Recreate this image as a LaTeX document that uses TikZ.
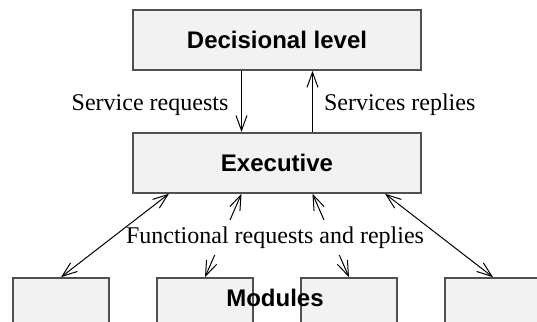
\documentclass[tikz,border=0pt]{standalone}
\usepackage{fontspec}
\setmainfont{Liberation Serif}
\setsansfont{Liberation Sans}
\usepackage{tikz}
\usetikzlibrary{positioning, arrows.meta, calc}
\definecolor{boxgray}{RGB}{242, 242, 242}
\definecolor{edgegray}{RGB}{80, 80, 80}

\begin{document}
\begin{tikzpicture}[x=0.5pt, y=-0.5pt,
    font=\fontsize{12}{14}\selectfont,
    levelbox/.style={draw=edgegray, line width=0.9pt, fill=boxgray,
        minimum width=144pt, minimum height=30pt, inner sep=0pt,
        font=\fontsize{12}{14}\selectfont\sffamily\bfseries},
    modbox/.style={draw=edgegray, line width=0.9pt, fill=boxgray,
        minimum width=48pt, minimum height=40pt, inner sep=0pt, anchor=north},
    arr/.style={line width=0.5pt, -{Straight Barb[length=7.5pt,width=5.5pt]}},
    dblarr/.style={line width=0.5pt, {Straight Barb[length=7.5pt,width=5.5pt]}-{Straight Barb[length=7.5pt,width=5.5pt]}}]
  \useasboundingbox (0,0) rectangle (537,322);
  \clip (0,0) rectangle (537,322);

  % levels
  \node[levelbox] (decision) at (277,40) {Decisional level};
  \node[levelbox, below=30.5pt of decision] (exec) {Executive};

  % modules
  \foreach \i/\dx in {1/-108, 2/-36, 3/36, 4/108}
    \node[modbox, below=41.75pt of exec, xshift=\dx pt] (mod\i) {};
  \node[anchor=base, font=\fontsize{12}{14}\selectfont\sffamily\bfseries] (modlabel) at (275,306) {Modules};

  % services between levels
  \draw[arr] ([xshift=-17.75pt]decision.south) -- ([xshift=-17.75pt]exec.north)
    node[midway, left=3pt, yshift=-1.75pt] {Service requests};
  \draw[arr] ([xshift=17.75pt]exec.north) -- ([xshift=17.75pt]decision.south)
    node[midway, right=2.2pt, yshift=-1.75pt] {Services replies};

  % functional requests
  \draw[dblarr] ([xshift=-17.75pt]exec.south) -- (mod2.north);
  \draw[dblarr] ([xshift=17.75pt]exec.south) -- (mod3.north);
  \node[fill=white, below=13pt of exec, xshift=-1pt] (funclabel) {Functional requests and replies};
  \draw[dblarr] ([xshift=-54pt]exec.south) -- (mod1.north);
  \draw[dblarr] ([xshift=54pt]exec.south) -- (mod4.north);
\end{tikzpicture}
\end{document}
